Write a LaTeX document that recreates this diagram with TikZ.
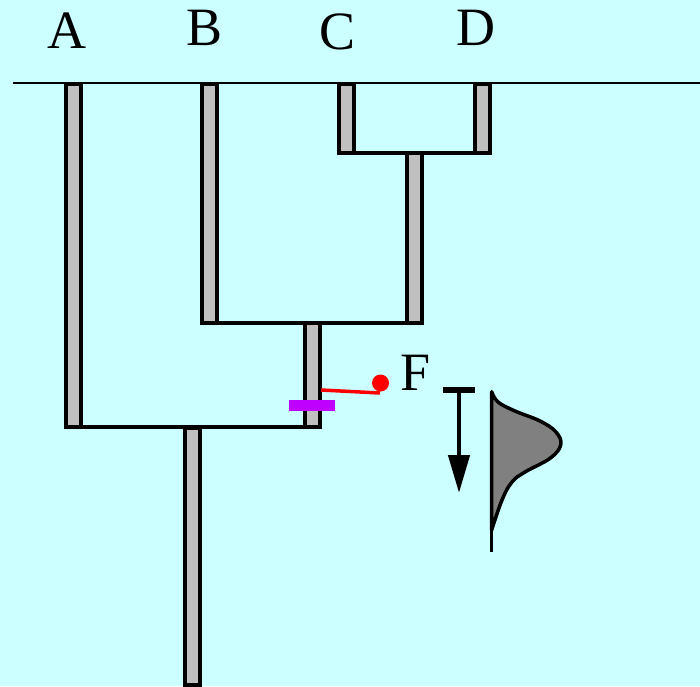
\documentclass[tikz,border=0pt]{standalone}
\usepackage{fontspec}
\setmainfont{Liberation Serif}
\usetikzlibrary{arrows.meta}
\definecolor{bgc}{HTML}{CCFFFF}
\definecolor{barc}{HTML}{C0C0C0}
\definecolor{purp}{HTML}{BF00FF}
\definecolor{distc}{HTML}{808080}
\tikzset{
  bar/.style={draw=black, fill=barc, line width=4pt, minimum width=15pt, inner sep=0pt, outer sep=0pt},
  link/.style={draw=black, line width=4pt, line cap=rect},
  lab/.style={inner sep=0pt, font=\fontsize{54}{54}\selectfont},
}
\begin{document}
\begin{tikzpicture}[x=1pt,y=-1pt]
\fill[bgc] (0,0) rectangle (700,686);
\useasboundingbox (0,0) rectangle (700,686);
% top line
\coordinate (L) at (13,83);
\coordinate (R) at (700,83);
\draw[line width=2.2pt] (L) -- (R);
% labels
\node[lab] (lA) at (66.5,31) {A};
\node[lab] (lB) at (205,28) {B};
\node[lab] (lC) at (338,32) {C};
\node[lab] (lD) at (476,28) {D};
% bars
\node[bar, minimum height=343pt] (A) at (73,255.5) {};
\node[bar, minimum height=239pt] (B) at (209,203.5) {};
\node[bar, minimum height=69pt] (C) at (346,118.5) {};
\node[bar, minimum height=69pt] (D) at (482,118.5) {};
\node[bar, minimum height=170pt] (CD) at (414,238) {};
\node[bar, minimum height=104pt] (BCD) at (312,375) {};
\node[bar, minimum height=257pt] (root) at (192,556) {};
% connectors
\draw[link] (C.south west) -- (D.south east);
\draw[link] (B.south west) -- (CD.south east);
\draw[link] (A.south west) -- (BCD.south east);
% fossil
\node[fill=purp, minimum width=46pt, minimum height=11pt, inner sep=0pt] (P) at (312,405.5) {};
\coordinate (rs) at (321,390);
\node[circle, fill=red, minimum size=17pt, inner sep=0pt] (dot) at (380.5,383) {};
\draw[red, line width=3.5pt] (rs) -- (380,393);
\node[lab] (F) at (416,373) {F};
% arrow
\coordinate (t1) at (443,390);
\coordinate (t2) at (475,390);
\coordinate (a0) at (459,390);
\coordinate (a1) at (459,493);
\draw[line width=6pt] (t1) -- (t2);
\draw[line width=4.5pt, -{Triangle[width=21pt,length=38pt]}] (a0) -- (a1);
% distribution
\draw[line width=3.5pt, fill=distc, line join=round] plot[smooth, tension=0.65] coordinates {
 (491.7,391.7) (498,402) (515,411) (540,421) (556,432) (560.7,445) (550,458.3) (525,472) (512,482) (502,500) (491.7,530)} -- cycle;
\coordinate (v0) at (491.7,391.7);
\coordinate (v1) at (491.7,551.7);
\draw[line width=3.5pt] (v0) -- (v1);
\end{tikzpicture}
\end{document}
